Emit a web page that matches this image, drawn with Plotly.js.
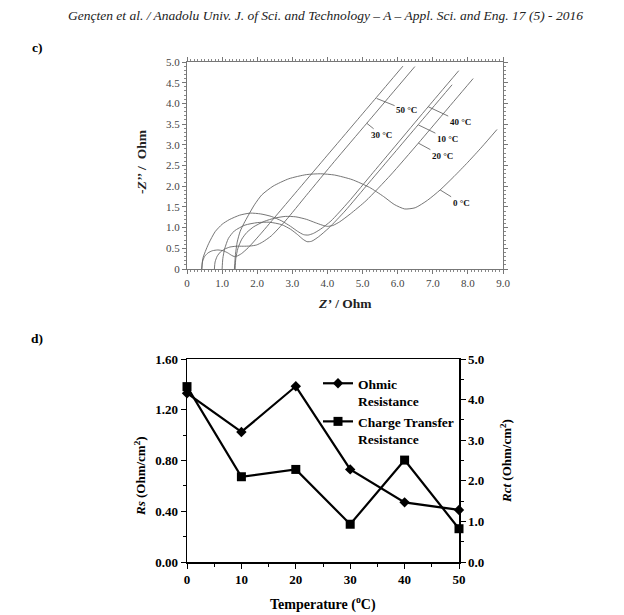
<!DOCTYPE html>
<html><head><meta charset="utf-8">
<script src="https://cdn.plot.ly/plotly-3.0.1.min.js"></script>
<style>body{margin:0;background:#fff}#p{width:624px;height:615px}</style>
</head><body><div id="p"></div>
<script>
// ---- Panel c: Nyquist curves (Z' , -Z'') ----
var z0_re  = [1.35,1.38,1.43,1.51,1.62,1.75,1.92,2.13,2.45,2.9,3.4,3.8,4.2,4.7,5.2,5.6,5.9,6.2,6.5,6.85,7.21,7.6,8.0,8.4,8.83];
var z0_im  = [0,0.35,0.65,0.90,1.10,1.30,1.55,1.79,2.0,2.18,2.28,2.3,2.27,2.16,1.97,1.75,1.56,1.45,1.48,1.66,1.91,2.23,2.58,2.95,3.37];
var z10_re = [1.0,1.02,1.07,1.18,1.35,1.65,2.0,2.35,2.7,2.95,3.15,3.3,3.42,3.55,3.75,4.05,4.5,5.2,5.9,6.59,7.55];
var z10_im = [0,0.25,0.48,0.74,0.92,1.06,1.12,1.13,1.07,0.96,0.83,0.72,0.66,0.67,0.78,1.0,1.40,2.1,2.8,3.49,4.45];
var z20_re = [1.37,1.39,1.45,1.56,1.7,1.9,2.2,2.5,2.8,3.1,3.4,3.65,3.85,4.0,4.15,4.35,4.65,5.1,5.8,6.59,7.3,8.15];
var z20_im = [0,0.25,0.50,0.72,0.88,1.02,1.15,1.23,1.27,1.26,1.20,1.12,1.06,1.03,1.05,1.14,1.33,1.65,2.27,3.04,3.75,4.6];
var z30_re = [0.78,0.80,0.86,0.95,1.07,1.22,1.40,1.60,1.80,1.98,2.15,2.4,2.8,3.4,4.2,5.12,5.8,6.49];
var z30_im = [0,0.17,0.31,0.41,0.48,0.53,0.55,0.55,0.555,0.58,0.65,0.80,1.16,1.78,2.60,3.52,4.2,4.89];
var z40_re = [0.42,0.45,0.52,0.62,0.80,1.0,1.2,1.5,1.8,2.1,2.4,2.7,2.95,3.15,3.32,3.45,3.6,3.8,4.1,4.6,5.3,6.1,6.87,7.74];
var z40_im = [0,0.25,0.42,0.62,0.90,1.08,1.19,1.30,1.35,1.33,1.27,1.16,1.03,0.91,0.83,0.82,0.86,0.96,1.16,1.62,2.33,3.14,3.92,4.79];
var z50_re = [0.42,0.44,0.50,0.60,0.72,0.88,1.03,1.16,1.27,1.35,1.42,1.55,1.75,2.1,2.6,3.2,4.0,4.8,5.4,6.15];
var z50_im = [0,0.17,0.30,0.39,0.44,0.46,0.44,0.39,0.33,0.30,0.31,0.37,0.52,0.85,1.35,1.95,2.75,3.55,4.15,4.9];
var cTickVals = [0,1,2,3,4,5,6,7,8,9];
var cTickText = ['0','1.0','2.0','3.0','4.0','5.0','6.0','7.0','8.0','9.0'];
var cYTickVals = [0,0.5,1,1.5,2,2.5,3,3.5,4,4.5,5];
var cYTickText = ['0','0.5','1.0','1.5','2.0','2.5','3.0','3.5','4.0','4.5','5.0'];
var curveLabels = ['50 °C','40 °C','30 °C','10 °C','20 °C','0 °C'];
var labelAtX = [5.40,6.87,5.12,6.59,6.59,7.21];
var labelAtY = [4.12,3.92,3.52,3.48,3.04,1.91];

// ---- Panel d ----
var temps = [0,10,20,30,40,50];
var ohmic = [1.33,1.025,1.385,0.73,0.47,0.41];
var rct   = [4.32,2.10,2.28,0.93,2.51,0.82];

var serif = 'Liberation Serif, Times New Roman, serif';
var cLine = {color:'#666', width:0.9, shape:'spline', smoothing:0.6};
function curve(x,y){return {x:x,y:y,xaxis:'x',yaxis:'y',mode:'lines',line:cLine,showlegend:false,hoverinfo:'skip'};}

var data = [
  curve(z0_re,z0_im), curve(z10_re,z10_im), curve(z20_re,z20_im),
  curve(z30_re,z30_im), curve(z40_re,z40_im), curve(z50_re,z50_im),
  {x:temps,y:ohmic,xaxis:'x2',yaxis:'y2',mode:'lines+markers',name:'Ohmic<br>Resistance',
   line:{color:'#000',width:2.2},marker:{symbol:'diamond',size:8,color:'#000'},cliponaxis:false},
  {x:temps,y:rct,xaxis:'x2',yaxis:'y3',mode:'lines+markers',name:'Charge Transfer<br>Resistance',
   line:{color:'#000',width:2.2},marker:{symbol:'square',size:9,color:'#000'},cliponaxis:false}
];

function pa(text,px,py,size,extra){
  var a = {text:text,xref:'paper',yref:'paper',x:px/624,y:1-py/615,xanchor:'center',yanchor:'middle',
    showarrow:false,font:{family:serif,size:size,color:'#000'}};
  for (var k in (extra||{})) a[k]=extra[k];
  return a;
}
var offs = [[30,12],[32,15],[15,12],[29,14],[24,13],[21,13]];
var ann = [
  pa('<i>Gençten et al. / Anadolu Univ. J. of Sci. and Technology – A – Appl. Sci. and Eng. 17 (5) - 2016</i>',325,16,13.5,{font:{family:serif,size:13.5,color:'#222'}}),
  pa('<b>c)</b>',37,48,13.5),
  pa('<b>d)</b>',37,338,13.5),
  pa('<b><i>Z’</i> / Ohm</b>',345,303,13.5,{font:{family:serif,size:13.5,color:'#222'}}),
  pa('<b>-<i>Z’’</i> /  Ohm</b>',141,162,13.5,{textangle:-90,font:{family:serif,size:13.5,color:'#222'}}),
  pa('<b><i>Rs</i> (Ohm/cm<sup>2</sup>)</b>',140,476,13,{textangle:-90}),
  pa('<b><i>Rct</i> (Ohm/cm<sup>2</sup>)</b>',506,461,13,{textangle:-90}),
  pa('<b>Temperature (<sup>o</sup>C)</b>',323,603,14)
];
for (var i=0;i<curveLabels.length;i++){
  ann.push({text:'<b>'+curveLabels[i]+'</b>',xref:'x',yref:'y',x:labelAtX[i],y:labelAtY[i],
    ax:offs[i][0],ay:offs[i][1],showarrow:true,arrowhead:0,arrowwidth:0.8,arrowcolor:'#555',
    font:{family:serif,size:9,color:'#111'}});
}

var cAx = {showline:true,linecolor:'#777',linewidth:1,mirror:'allticks',ticks:'outside',ticklen:4,tickcolor:'#777',
  showgrid:false,zeroline:false,tickfont:{family:serif,size:11,color:'#444'},
  minor:{ticks:'outside',ticklen:2,tickcolor:'#888',dtick:0.1}};
var dAxFont = {family:serif,size:13,color:'#000',weight:'bold'};

var layout = {
  width:624,height:615,margin:{l:0,r:0,t:0,b:0},paper_bgcolor:'#fff',plot_bgcolor:'rgba(0,0,0,0)',
  xaxis:Object.assign({},cAx,{domain:[187/624,503/624],anchor:'y',range:[0,9],tickmode:'array',tickvals:cTickVals,ticktext:cTickText}),
  yaxis:Object.assign({},cAx,{domain:[(615-269)/615,(615-62)/615],anchor:'x',range:[0,5],tickmode:'array',tickvals:cYTickVals,ticktext:cYTickText}),
  xaxis2:{domain:[187/624,459/624],anchor:'y2',range:[0,50],tickmode:'array',tickvals:temps,showline:true,linecolor:'#000',linewidth:1.5,
    mirror:true,ticks:'outside',ticklen:5,tickcolor:'#000',showgrid:false,zeroline:false,tickfont:dAxFont,
    minor:{ticks:'outside',ticklen:3,tickcolor:'#000',dtick:5}},
  yaxis2:{domain:[(615-562)/615,(615-359)/615],anchor:'x2',range:[0,1.6],dtick:0.4,tickformat:'.2f',showline:true,linecolor:'#000',linewidth:1.5,
    ticks:'outside',ticklen:5,tickcolor:'#000',showgrid:false,zeroline:false,tickfont:dAxFont,
    minor:{ticks:'outside',ticklen:3,tickcolor:'#000',dtick:0.2}},
  yaxis3:{overlaying:'y2',side:'right',anchor:'x2',range:[0,5],dtick:1,tickformat:'.1f',showline:true,linecolor:'#000',linewidth:1.5,
    ticks:'outside',ticklen:5,tickcolor:'#000',showgrid:false,zeroline:false,tickfont:dAxFont,
    minor:{ticks:'outside',ticklen:3,tickcolor:'#000',dtick:0.5}},
  showlegend:true,
  legend:{x:318/624,y:1-368/615,xanchor:'left',yanchor:'top',bgcolor:'rgba(255,255,255,0)',valign:'top',
    font:{family:serif,size:13.5,color:'#000',weight:'bold'},tracegroupgap:3,itemwidth:30},
  annotations:ann
};
Plotly.newPlot('p',data,layout,{displayModeBar:false,staticPlot:true});
</script></body></html>
